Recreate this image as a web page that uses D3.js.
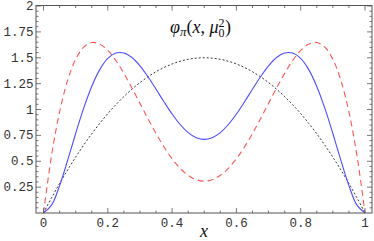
<!DOCTYPE html>
<html><head><meta charset="utf-8">
<script src="https://cdn.jsdelivr.net/npm/d3@7"></script>
<style>body{margin:0;background:#fff}svg{display:block}
.mono{font-family:"Liberation Mono","DejaVu Sans Mono","Courier New",monospace}
.ser{font-family:"Liberation Serif","DejaVu Serif","Times New Roman",serif}</style>
</head><body>
<svg id="c" width="374" height="241"></svg>
<script>
const xs = [0,0.025,0.05,0.075,0.1,0.125,0.15,0.175,0.2,0.225,0.25,0.275,0.3,0.325,0.35,0.375,0.4,0.425,0.45,0.475,0.5,
  0.525,0.55,0.575,0.6,0.625,0.65,0.675,0.7,0.725,0.75,0.775,0.8,0.825,0.85,0.875,0.9,0.925,0.95,0.975,1];
const asymptotic = [0,0.146,0.285,0.416,0.54,0.656,0.765,0.866,0.96,1.046,1.125,1.196,1.26,1.316,1.365,1.406,1.44,1.466,1.485,1.496,1.5,
  1.496,1.485,1.466,1.44,1.406,1.365,1.316,1.26,1.196,1.125,1.046,0.96,0.866,0.765,0.656,0.54,0.416,0.285,0.146,0];
const blueDA = [0,0.076,0.264,0.508,0.768,1.013,1.223,1.385,1.493,1.545,1.546,1.502,1.422,1.316,1.196,1.073,0.956,0.855,0.777,0.728,0.711,
  0.728,0.777,0.855,0.956,1.073,1.196,1.316,1.422,1.502,1.546,1.545,1.493,1.385,1.223,1.013,0.768,0.508,0.264,0.076,0];
const redDA = [0,0.555,0.976,1.281,1.485,1.602,1.647,1.632,1.571,1.473,1.349,1.208,1.06,0.911,0.768,0.638,0.524,0.432,0.364,0.322,0.308,
  0.322,0.364,0.432,0.524,0.638,0.768,0.911,1.06,1.208,1.349,1.473,1.571,1.632,1.647,1.602,1.485,1.281,0.976,0.555,0];
const xTicks = [0,0.2,0.4,0.6,0.8,1];
const xTickLabels = ["0","0.2","0.4","0.6","0.8","1"];
const yTicks = [0.25,0.5,0.75,1,1.25,1.5,1.75,2];
const yTickLabels = ["0.25","0.5","0.75","1","1.25","1.5","1.75","2"];

const svg = d3.select("#c");
const L = 36, R = 372, T = 5.5, B = 213;
const x = d3.scaleLinear().domain([0,1]).range([43.5,365]);
const y = d3.scaleLinear().domain([0,2]).range([B,T+0.5]);

const line = d3.line().x((d,i)=>x(xs[i])).y(d=>y(d)).curve(d3.curveCatmullRom);
function draw(data,color,dash,w){
  svg.append("path").attr("d",line(data)).attr("fill","none").attr("stroke",color)
    .attr("stroke-width",w).attr("stroke-dasharray",dash);
}
draw(asymptotic,"#222","2,2",0.9);
draw(redDA,"#ff5555","6,4",1.1);
draw(blueDA,"#4d4dff","",1.1);

svg.append("rect").attr("x",L).attr("y",T).attr("width",R-L).attr("height",B-T)
  .attr("fill","none").attr("stroke","#555").attr("stroke-width",1);

const minorX = d3.range(0,21).map(i=>i*0.05);
const minorY = d3.range(1,41).map(i=>i*0.05);
const tk = svg.append("g").attr("stroke","#555").attr("stroke-width",0.8);
minorX.forEach(v=>{
  const isMaj = xTicks.some(t=>Math.abs(t-v)<1e-9);
  const len = isMaj?5:2.5;
  tk.append("line").attr("x1",x(v)).attr("x2",x(v)).attr("y1",B).attr("y2",B-len);
  tk.append("line").attr("x1",x(v)).attr("x2",x(v)).attr("y1",T).attr("y2",T+len);
});
minorY.forEach(v=>{
  const isMaj = yTicks.some(t=>Math.abs(t-v)<1e-9);
  const len = isMaj?5:2.5;
  tk.append("line").attr("x1",L).attr("x2",L+len).attr("y1",y(v)).attr("y2",y(v));
  tk.append("line").attr("x1",R).attr("x2",R-len).attr("y1",y(v)).attr("y2",y(v));
});

const lab = svg.append("g").attr("class","mono").attr("font-size",12.5).attr("fill","#333");
xTicks.forEach((v,i)=>lab.append("text").attr("x",x(v)).attr("y",226.5)
  .attr("text-anchor","middle").text(xTickLabels[i]));
yTicks.forEach((v,i)=>lab.append("text").attr("x",33.5).attr("y",y(v)+4)
  .attr("text-anchor","end").text(yTickLabels[i]));

svg.append("text").attr("class","ser").attr("x",204).attr("y",237).attr("text-anchor","middle")
  .attr("font-style","italic").attr("font-size",18).attr("fill","#111").text("x");

const t = svg.append("text").attr("class","ser").attr("x",170).attr("y",33)
  .attr("font-size",18).attr("fill","#111");
t.append("tspan").attr("font-style","italic").text("φ");
t.append("tspan").attr("font-style","italic").attr("font-size",13).attr("dy",3).text("π");
t.append("tspan").attr("dy",-3).text("(");
t.append("tspan").attr("font-style","italic").text("x");
t.append("tspan").text(", ");
t.append("tspan").attr("font-style","italic").text("μ");
t.append("tspan").attr("font-size",12).attr("dy",4).text("0");
t.append("tspan").attr("font-size",12).attr("dx",-6).attr("dy",-10.5).text("2");
t.append("tspan").attr("dx",0.5).attr("dy",6.5).text(")");
</script>
</body></html>
